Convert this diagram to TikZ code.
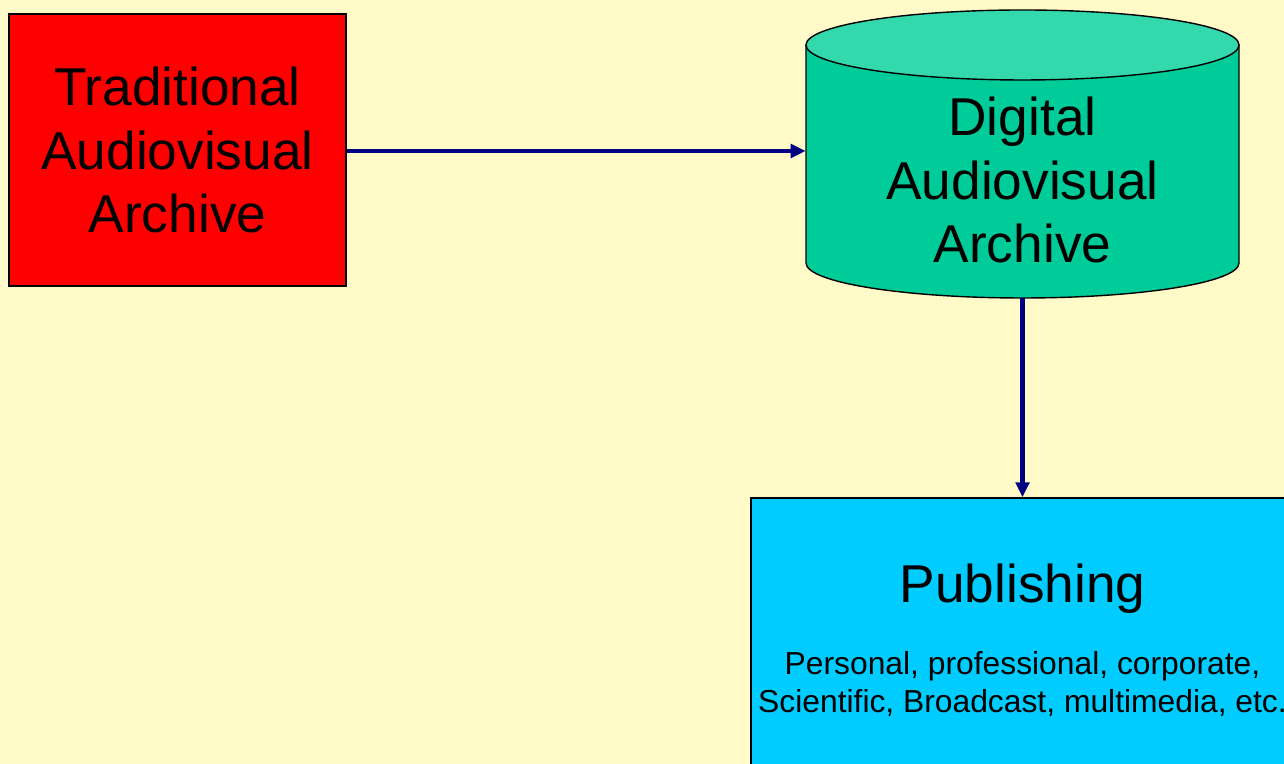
\documentclass[tikz,border=0pt]{standalone}
\usepackage{fontspec}
\setmainfont{Liberation Sans}
\usepackage{tikz}
\usetikzlibrary{arrows.meta}

\definecolor{bgyellow}{RGB}{255,250,200}
\definecolor{archred}{RGB}{255,0,0}
\definecolor{cylbody}{RGB}{0,204,153}
\definecolor{cyltop}{RGB}{51,217,173}
\definecolor{pubblue}{RGB}{0,204,255}
\definecolor{arrownavy}{RGB}{0,0,128}

\begin{document}
\begin{tikzpicture}[
        bigtext/.style={font=\fontsize{30.3}{36}\selectfont, align=center},
        smalltext/.style={font=\fontsize{18.1}{22}\selectfont, align=center},
        flow/.style={draw=arrownavy, line width=2.3pt, -{Triangle[length=0.3cm,width=0.27cm]}}
    ]

        %Background
        \useasboundingbox (0,0) rectangle (25.68,15.28);
        \clip (0,0) rectangle (25.68,15.28);
        \fill [bgyellow] (0,0) rectangle (25.68,15.28);

        %Traditional archive
        \node (trad) [draw, line width=0.8pt, fill=archred, minimum width=6.74cm, minimum height=5.44cm, bigtext] at (3.55,12.28) {Traditional\\Audiovisual\\Archive};

        %Digital archive
        \draw [line width=0.8pt, fill=cylbody] (16.12,14.38) -- (16.12,10.02) arc (180:360:4.33 and 0.7) -- (24.78,14.38) -- cycle;
        \draw [line width=0.8pt, fill=cyltop] (20.45,14.38) ellipse (4.33 and 0.7);
        \node (digital) [minimum width=8.66cm, minimum height=5.76cm] at (20.45,12.2) {};
        \node (digitallabel) [bigtext] at (20.45,11.68) {Digital\\Audiovisual\\Archive};

        %Publishing
        \node (pub) [draw, line width=0.8pt, fill=pubblue, minimum width=10.86cm, minimum height=6.32cm] at (20.45,2.16) {};
        \node (pubtitle) [bigtext] at (20.45,3.5) {Publishing};
        \node (pubnote) [smalltext] at (20.45,1.6) {Personal, professional, corporate,\\Scientific, Broadcast, multimedia, etc.};

        %Arrows
        \draw [flow] ([yshift=-0.02cm]trad.east) -- ([yshift=-0.02cm]trad.east -| digital.west);
        \draw [flow] (digital.south) -- (pub.north);

\end{tikzpicture}
\end{document}
